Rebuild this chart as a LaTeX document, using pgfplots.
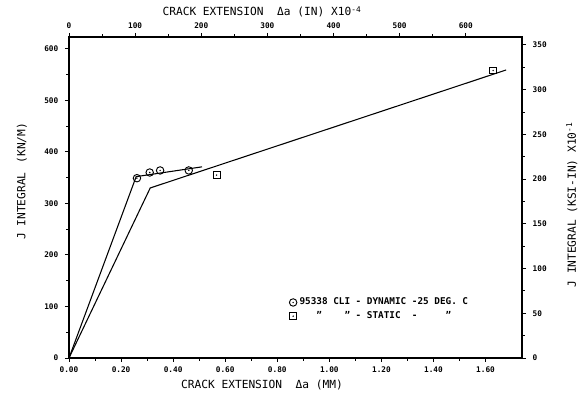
\documentclass[border=0pt]{standalone}
\usepackage{fontspec}
\setmainfont{DejaVu Sans Mono}
\setmonofont{DejaVu Sans Mono}
\usepackage{pgfplots}
\pgfplotsset{compat=1.18}
\newcommand\bl{\phantom{0}}
\newcommand\dq{\char34\relax}
\pgfdeclareplotmark{odot}{%
 \pgfpathcircle{\pgfpointorigin}{\pgfplotmarksize}\pgfusepathqstroke
 \pgfpathcircle{\pgfpointorigin}{0.6pt}\pgfusepathqfill}
\pgfdeclareplotmark{sdot}{%
 \pgfpathrectangle{\pgfpoint{-\pgfplotmarksize}{-\pgfplotmarksize}}{\pgfpoint{2\pgfplotmarksize}{2\pgfplotmarksize}}\pgfusepathqstroke
 \pgfpathcircle{\pgfpointorigin}{0.6pt}\pgfusepathqfill}
\pgfplotsset{
  common/.style={
    at={(0,0)}, anchor=south west, scale only axis,
    width=339.75pt, height=240.75pt,
    tick align=outside, major tick length=3pt, minor tick length=2pt,
    axis line style={line width=0.9pt},
    every tick/.style={black, line width=0.7pt},
    tick label style={font=\bfseries\fontsize{5.8}{6}\selectfont},
    /pgf/number format/assume math mode=true,
    minor x tick num=1, minor y tick num=1,
  }
}
\begin{document}
\begin{tikzpicture}
\useasboundingbox (-51.75pt,-30pt) rectangle (382.5pt,268.5pt);
\begin{axis}[common,
  xmin=0, xmax=1.74, ymin=0, ymax=623,
  xtick={0,0.2,0.4,0.6,0.8,1.0,1.2,1.4,1.6},
  xticklabels={0.00,0.20,0.40,0.60,0.80,1.00,1.20,1.40,1.60},
  ytick={0,100,200,300,400,500,600},
  xtick pos=left, ytick pos=left,
  yticklabel style={xshift=-1.5pt},
  xlabel={CRACK EXTENSION\hspace{1.2em}Δa (MM)},
  ylabel={J INTEGRAL\hspace{0.8em}(KN/M)},
  every axis x label/.style={at={(axis description cs:0.426,-0.084)}, anchor=center, font=\fontsize{8.4}{10}\selectfont},
  every axis y label/.style={at={(axis description cs:-0.104,0.55)}, anchor=center, rotate=90, font=\fontsize{8.4}{10}\selectfont},
  legend style={draw=none, fill=none, at={(rel axis cs:0.486,0.196)}, anchor=north west,
    font=\bfseries\fontsize{7}{8}\selectfont, row sep=-0.5pt, inner sep=0pt},
  legend cell align=left,
]
\addplot[forget plot, black, line width=0.8pt] coordinates {(0,0) (0.258,352) (0.511,371)};
\addplot[forget plot, black, line width=0.8pt] coordinates {(0,0) (0.312,330) (1.679,559)};
\addplot[only marks, black, mark=odot, mark size=2.8pt, line width=0.7pt] coordinates {(0.261,349) (0.310,360) (0.350,364) (0.460,364)};
\addlegendentry{95338 CLI - DYNAMIC -25 DEG. C}
\addplot[only marks, black, mark=sdot, mark size=2.6pt, line width=0.7pt] coordinates {(0.567,355) (1.629,558)};
\addlegendentry{\bl\bl\bl\dq\bl\bl\bl\bl\dq\bl-\bl STATIC\bl\bl-\bl\bl\bl\bl\bl\dq}
\end{axis}
\begin{axis}[common,
  xmin=0, xmax=685, ymin=0, ymax=358.9,
  xtick={0,100,200,300,400,500,600},
  ytick={0,50,100,150,200,250,300,350},
  xtick pos=right, ytick pos=right,
  yticklabel style={xshift=1.5pt},
  xlabel={CRACK EXTENSION\hspace{1.2em}Δa (IN) X10\textsuperscript{-4}},
  ylabel={J INTEGRAL (KSI-IN) X10\textsuperscript{-1}},
  every axis x label/.style={at={(axis description cs:0.426,1.078)}, anchor=center, font=\fontsize{8.4}{10}\selectfont},
  every axis y label/.style={at={(axis description cs:1.110,0.477)}, anchor=center, rotate=90, font=\fontsize{8.4}{10}\selectfont},
]
\end{axis}
\end{tikzpicture}
\end{document}
